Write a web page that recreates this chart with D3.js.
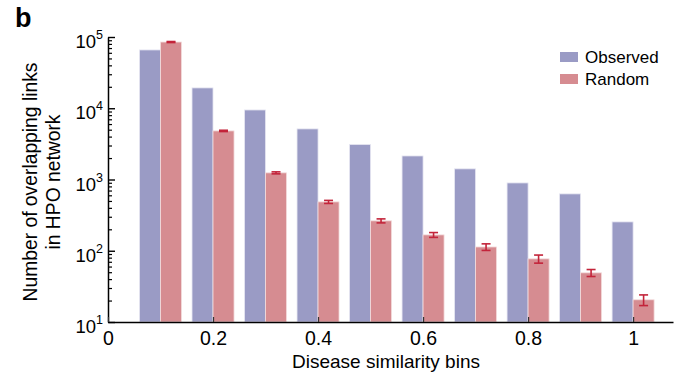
<!DOCTYPE html>
<html>
<head>
<meta charset="utf-8">
<script src="https://cdn.jsdelivr.net/npm/d3@7"></script>
<style>
  body { margin: 0; background: #fff; }
  svg text { font-family: "Liberation Sans", Arial, Helvetica, sans-serif; fill: #000; }
</style>
</head>
<body>
<div id="chart"></div>
<script>
// bin centres (disease similarity)
const bins = [0.1, 0.2, 0.3, 0.4, 0.5, 0.6, 0.7, 0.8, 0.9, 1.0];
const observed = [65800, 19300, 9460, 5130, 3100, 2140, 1410, 895, 628, 254];
const randomMean = [85000, 4810, 1240, 485, 263, 167, 113, 77, 49, 20.5];
const randomErr = [1400, 100, 40, 24, 17, 13, 12, 10, 5.5, 3.5];
const xTicks = [0, 0.2, 0.4, 0.6, 0.8, 1];
const yTicks = [10, 100, 1000, 10000, 100000];

const W = 677, H = 373;
const margin = {top: 37, right: 4, bottom: 51, left: 108};
const width = W - margin.left - margin.right,
  height = H - margin.top - margin.bottom;
const barW = 0.04;

const svg = d3.select("#chart").append("svg")
  .attr("width", W).attr("height", H);

svg.append("text")
  .attr("x", 15).attr("y", 27)
  .style("font-size", "27px").style("font-weight", "bold")
  .text("b");

const g = svg.append("g")
  .attr("transform", "translate(" + margin.left + "," + margin.top + ")");

const x = d3.scaleLinear().domain([0, 1.076]).range([0, width]);
const y = d3.scaleLog().domain([10, 100000]).range([height, 0]);

// bars
g.append("g").selectAll("rect")
  .data(bins)
  .enter().append("rect")
    .attr("x", function(d) { return x(d - barW); })
    .attr("y", function(d, i) { return y(observed[i]); })
    .attr("width", function(d) { return x(d) - x(d - barW); })
    .attr("height", function(d, i) { return height - y(observed[i]); })
    .attr("fill", "#9a9bc5")
    .attr("stroke", "#e6e6f2").attr("stroke-width", 0.8);

g.append("g").selectAll("rect")
  .data(bins)
  .enter().append("rect")
    .attr("x", function(d) { return x(d); })
    .attr("y", function(d, i) { return y(randomMean[i]); })
    .attr("width", function(d) { return x(d + barW) - x(d); })
    .attr("height", function(d, i) { return height - y(randomMean[i]); })
    .attr("fill", "#d68c91")
    .attr("stroke", "#f3dcdd").attr("stroke-width", 0.8);

// error bars on random
const err = g.append("g").attr("stroke", "#c3243a").attr("stroke-width", 1.6);
bins.forEach(function(d, i) {
  const cx = x(d + barW / 2);
  const y0 = y(randomMean[i] - randomErr[i]), y1 = y(randomMean[i] + randomErr[i]);
  err.append("line").attr("x1", cx).attr("x2", cx).attr("y1", y0).attr("y2", y1);
  err.append("line").attr("x1", cx - 4.5).attr("x2", cx + 4.5).attr("y1", y0).attr("y2", y0);
  err.append("line").attr("x1", cx - 4.5).attr("x2", cx + 4.5).attr("y1", y1).attr("y2", y1);
});

// y axis minor ticks
const minor = [];
for (let e = 1; e < 5; e++) {
  for (let m = 2; m <= 9; m++) minor.push(m * Math.pow(10, e));
}
g.append("g")
  .call(d3.axisLeft(y).tickValues(minor).tickSize(-4).tickFormat(""))
  .call(function(a) { a.select(".domain").remove(); })
  .selectAll("line").attr("stroke-width", 1.2);

// y axis major ticks
const yAxis = g.append("g")
  .call(d3.axisLeft(y).tickValues(yTicks).tickSize(-7).tickSizeOuter(0).tickFormat(""));
yAxis.select(".domain").attr("stroke-width", 1.5);
yAxis.selectAll("line").attr("stroke-width", 1.4);
yAxis.selectAll(".tick").append("text")
  .attr("x", -5).attr("dy", "0.58em")
  .attr("text-anchor", "end")
  .style("font-size", "18.5px")
  .each(function(d) {
    const t = d3.select(this);
    t.append("tspan").text("10");
    t.append("tspan").attr("dy", -9).style("font-size", "12.5px")
      .text(Math.round(Math.log10(d)));
  });

// x axis
const xAxis = g.append("g")
  .attr("transform", "translate(0," + height + ")")
  .call(d3.axisBottom(x).tickValues(xTicks).tickSize(-5).tickSizeOuter(0)
    .tickPadding(9).tickFormat(function(d) { return d === 0 ? "0" : String(d); }));
xAxis.select(".domain").attr("stroke-width", 1.5);
xAxis.selectAll("line").attr("stroke", "#333").attr("stroke-width", 1.2);
xAxis.selectAll("text").style("font-size", "19.5px").attr("fill", "#000");

// axis titles
svg.append("text")
  .attr("x", 386).attr("y", 368)
  .attr("text-anchor", "middle")
  .style("font-size", "19px")
  .text("Disease similarity bins");

const yt = svg.append("text")
  .attr("transform", "translate(37,182) rotate(-90)")
  .attr("text-anchor", "middle")
  .style("font-size", "19.3px");
yt.append("tspan").attr("x", 0).attr("dy", 0).text("Number of overlapping links");
yt.append("tspan").attr("x", 0).attr("dy", 23).text("in HPO network");

// legend
const legend = svg.append("g").attr("transform", "translate(560,52)");
const leg = [["Observed", "#9a9bc5"], ["Random", "#d68c91"]];
leg.forEach(function(l, i) {
  legend.append("rect").attr("x", 0).attr("y", i * 22)
    .attr("width", 18).attr("height", 10).attr("fill", l[1]);
  legend.append("text").attr("x", 25).attr("y", i * 22 + 11)
    .style("font-size", "17px").text(l[0]);
});
</script>
</body>
</html>
